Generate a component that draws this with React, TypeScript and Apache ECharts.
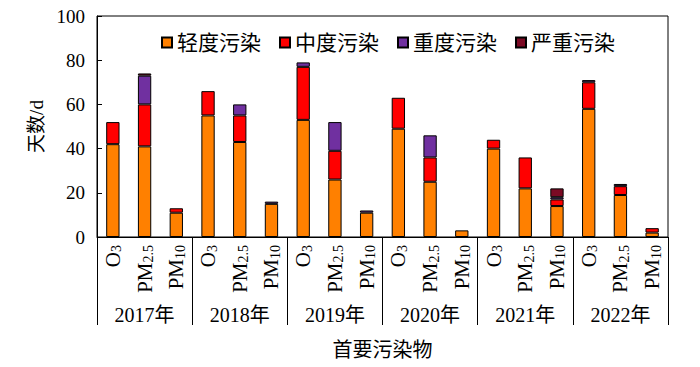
import React, { useEffect, useRef } from "react";
import * as echarts from "echarts";

const years = ["2017年", "2018年", "2019年", "2020年", "2021年", "2022年"];
const pollutants = ["O3", "PM2.5", "PM10"];
const seriesNames = ["轻度污染", "中度污染", "重度污染", "严重污染"];
const seriesColors = ["#FF8000", "#FF0000", "#7030A0", "#7B0A24"];

const light = [42, 41, 11, 55, 43, 15, 53, 26, 11, 49, 25, 3, 40, 22, 14, 58, 19, 2];
const moderate = [10, 19, 2, 11, 12, 0, 24, 13, 0, 14, 11, 0, 4, 14, 3, 12, 4, 2];
const heavy = [0, 13, 0, 0, 5, 1, 2, 13, 1, 0, 10, 0, 0, 0, 1, 1, 1, 0];
const severe = [0, 1, 0, 0, 0, 0, 0, 0, 0, 0, 0, 0, 0, 0, 4, 0, 0, 0];

const yTicks = [0, 20, 40, 60, 80, 100];

const FONT = "'Liberation Serif', 'Times New Roman', 'Noto Sans CJK SC', serif";

export default function App() {
  const ref = useRef<HTMLDivElement>(null);
  useEffect(() => {
    if (!ref.current) return;
    const chart = echarts.init(ref.current, undefined, { renderer: "svg" });
    const categories: string[] = [];
    years.forEach((y) => pollutants.forEach((p) => categories.push(y + "|" + p)));
    const allData = [light, moderate, heavy, severe];
    const fmtPollutant = (v: string) => {
      const p = v.split("|")[1];
      if (p === "O3") return "{n|O}{s|3}";
      if (p === "PM2.5") return "{n|PM}{s|2.5}";
      return "{n|PM}{s|10}";
    };
    chart.setOption({
      animation: false,
      textStyle: { fontFamily: FONT, color: "#000" },
      grid: {
        left: 97,
        right: 32,
        top: 16,
        bottom: 130,
        containLabel: false,
        outerBoundsMode: "none",
        show: true,
        borderColor: "#000",
        borderWidth: 1,
        backgroundColor: "transparent",
      },
      legend: {
        top: 27,
        left: 156,
        itemWidth: 10,
        itemHeight: 10,
        itemGap: 18,
        icon: "rect",
        data: seriesNames,
        textStyle: { fontFamily: FONT, fontSize: 21, color: "#000" },
      },
      xAxis: [
        {
          type: "category",
          data: categories,
          position: "bottom",
          axisLine: { show: true, lineStyle: { color: "#000", width: 1 } },
          axisTick: { show: false },
          axisLabel: {
            interval: 0,
            rotate: 90,
            margin: 8,
            color: "#000",
            formatter: fmtPollutant,
            rich: {
              n: { fontFamily: FONT, fontSize: 21, color: "#000", lineHeight: 22 },
              s: { fontFamily: FONT, fontSize: 14, color: "#000", verticalAlign: "bottom", lineHeight: 14, padding: [9, 0, 0, 0] },
            },
          },
        },
        {
          type: "category",
          data: years,
          position: "bottom",
          axisLine: { show: false },
          axisTick: { show: true, length: 88, inside: false, lineStyle: { color: "#000", width: 1 } },
          axisLabel: { interval: 0, margin: 68, fontSize: 20, color: "#000", fontFamily: FONT },
          name: "首要污染物",
          nameLocation: "middle",
          nameGap: 103,
          nameTextStyle: { fontSize: 20, color: "#000", fontFamily: FONT },
        },
      ],
      yAxis: {
        type: "value",
        min: yTicks[0],
        max: yTicks[yTicks.length - 1],
        interval: 20,
        name: "天数/d",
        nameLocation: "middle",
        nameGap: 47,
        nameTextStyle: { fontSize: 19, color: "#000", fontFamily: FONT },
        axisLine: { show: true, lineStyle: { color: "#000", width: 1 } },
        axisTick: { show: true, inside: true, length: 5, lineStyle: { color: "#000" } },
        splitLine: { show: false },
        axisLabel: { fontSize: 19, color: "#000", margin: 12, fontFamily: FONT },
      },
      series: seriesNames.map((name, i) => ({
        name,
        type: "bar",
        stack: "total",
        xAxisIndex: 0,
        barWidth: "42%",
        itemStyle: { color: seriesColors[i], borderColor: "#000", borderWidth: 1 },
        data: allData[i].map((v) => (v === 0 ? "-" : v)),
      })),
    });
    return () => chart.dispose();
  }, []);
  return (
    <div
      ref={ref}
      style={{ position: "fixed", left: 0, top: 0, width: 700, height: 367, background: "#fff" }}
    />
  );
}
